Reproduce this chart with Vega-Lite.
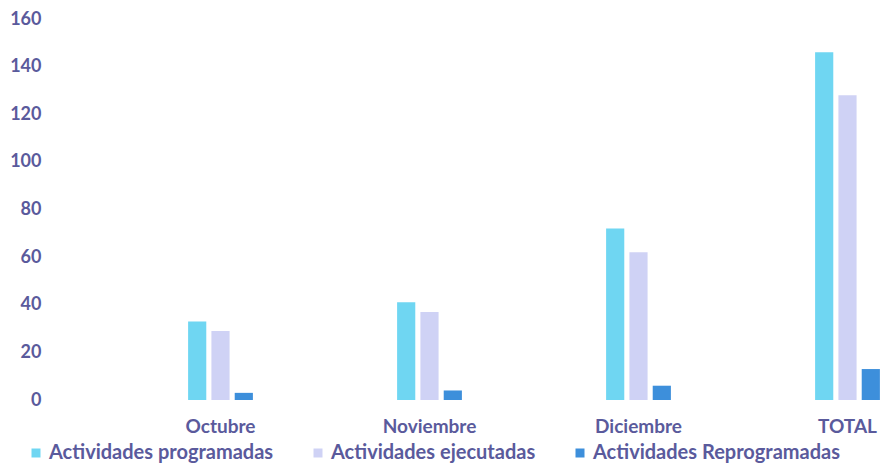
{
  "$schema": "https://vega.github.io/schema/vega-lite/v6.json",
  "autosize": {"type": "none"},
  "width": 836,
  "height": 381,
  "padding": {"left": 116, "top": 19, "right": 0, "bottom": 63},
  "background": "#ffffff",
  "config": {"view": {"stroke": null}, "font": "Lato"},
  "data": {"values": [
    {"mes": "Octubre", "serie": "Actividades programadas", "valor": 33},
    {"mes": "Octubre", "serie": "Actividades ejecutadas", "valor": 29},
    {"mes": "Octubre", "serie": "Actividades Reprogramadas", "valor": 3},
    {"mes": "Noviembre", "serie": "Actividades programadas", "valor": 41},
    {"mes": "Noviembre", "serie": "Actividades ejecutadas", "valor": 37},
    {"mes": "Noviembre", "serie": "Actividades Reprogramadas", "valor": 4},
    {"mes": "Diciembre", "serie": "Actividades programadas", "valor": 72},
    {"mes": "Diciembre", "serie": "Actividades ejecutadas", "valor": 62},
    {"mes": "Diciembre", "serie": "Actividades Reprogramadas", "valor": 6},
    {"mes": "TOTAL", "serie": "Actividades programadas", "valor": 146},
    {"mes": "TOTAL", "serie": "Actividades ejecutadas", "valor": 128},
    {"mes": "TOTAL", "serie": "Actividades Reprogramadas", "valor": 13}
  ]},
  "mark": {"type": "bar"},
  "encoding": {
    "x": {
      "field": "mes", "type": "nominal",
      "sort": ["Octubre", "Noviembre", "Diciembre", "TOTAL"],
      "scale": {"paddingInner": 0.69, "paddingOuter": 0.345},
      "axis": {"title": null, "labelAngle": 0, "domain": false, "ticks": false, "labelPadding": 17, "labelFontSize": 19, "labelFontWeight": "bold", "labelColor": "#5a5a9c", "labelDx": -9}
    },
    "xOffset": {
      "field": "serie", "type": "nominal",
      "sort": ["Actividades programadas", "Actividades ejecutadas", "Actividades Reprogramadas"],
      "scale": {"paddingInner": 0.22}
    },
    "y": {
      "field": "valor", "type": "quantitative",
      "scale": {"domain": [0, 160]},
      "axis": {"title": null, "values": [0, 20, 40, 60, 80, 100, 120, 140, 160], "grid": false, "domain": false, "ticks": false, "labelPadding": 75, "labelFontSize": 18, "labelFontWeight": "bold", "labelColor": "#5a5a9c"}
    },
    "color": {
      "field": "serie", "type": "nominal",
      "sort": ["Actividades programadas", "Actividades ejecutadas", "Actividades Reprogramadas"],
      "scale": {"domain": ["Actividades programadas", "Actividades ejecutadas", "Actividades Reprogramadas"], "range": ["#6fd6f2", "#cfd2f5", "#3d8fdb"]},
      "legend": {"title": null, "orient": "none", "direction": "horizontal", "legendX": -90, "legendY": 424, "symbolType": "square", "symbolSize": 81, "symbolStrokeWidth": 0, "labelFontSize": 20, "labelFontWeight": "bold", "labelColor": "#5a5a9c", "labelOffset": 3, "columnPadding": 34, "labelLimit": 300}
    }
  }
}
